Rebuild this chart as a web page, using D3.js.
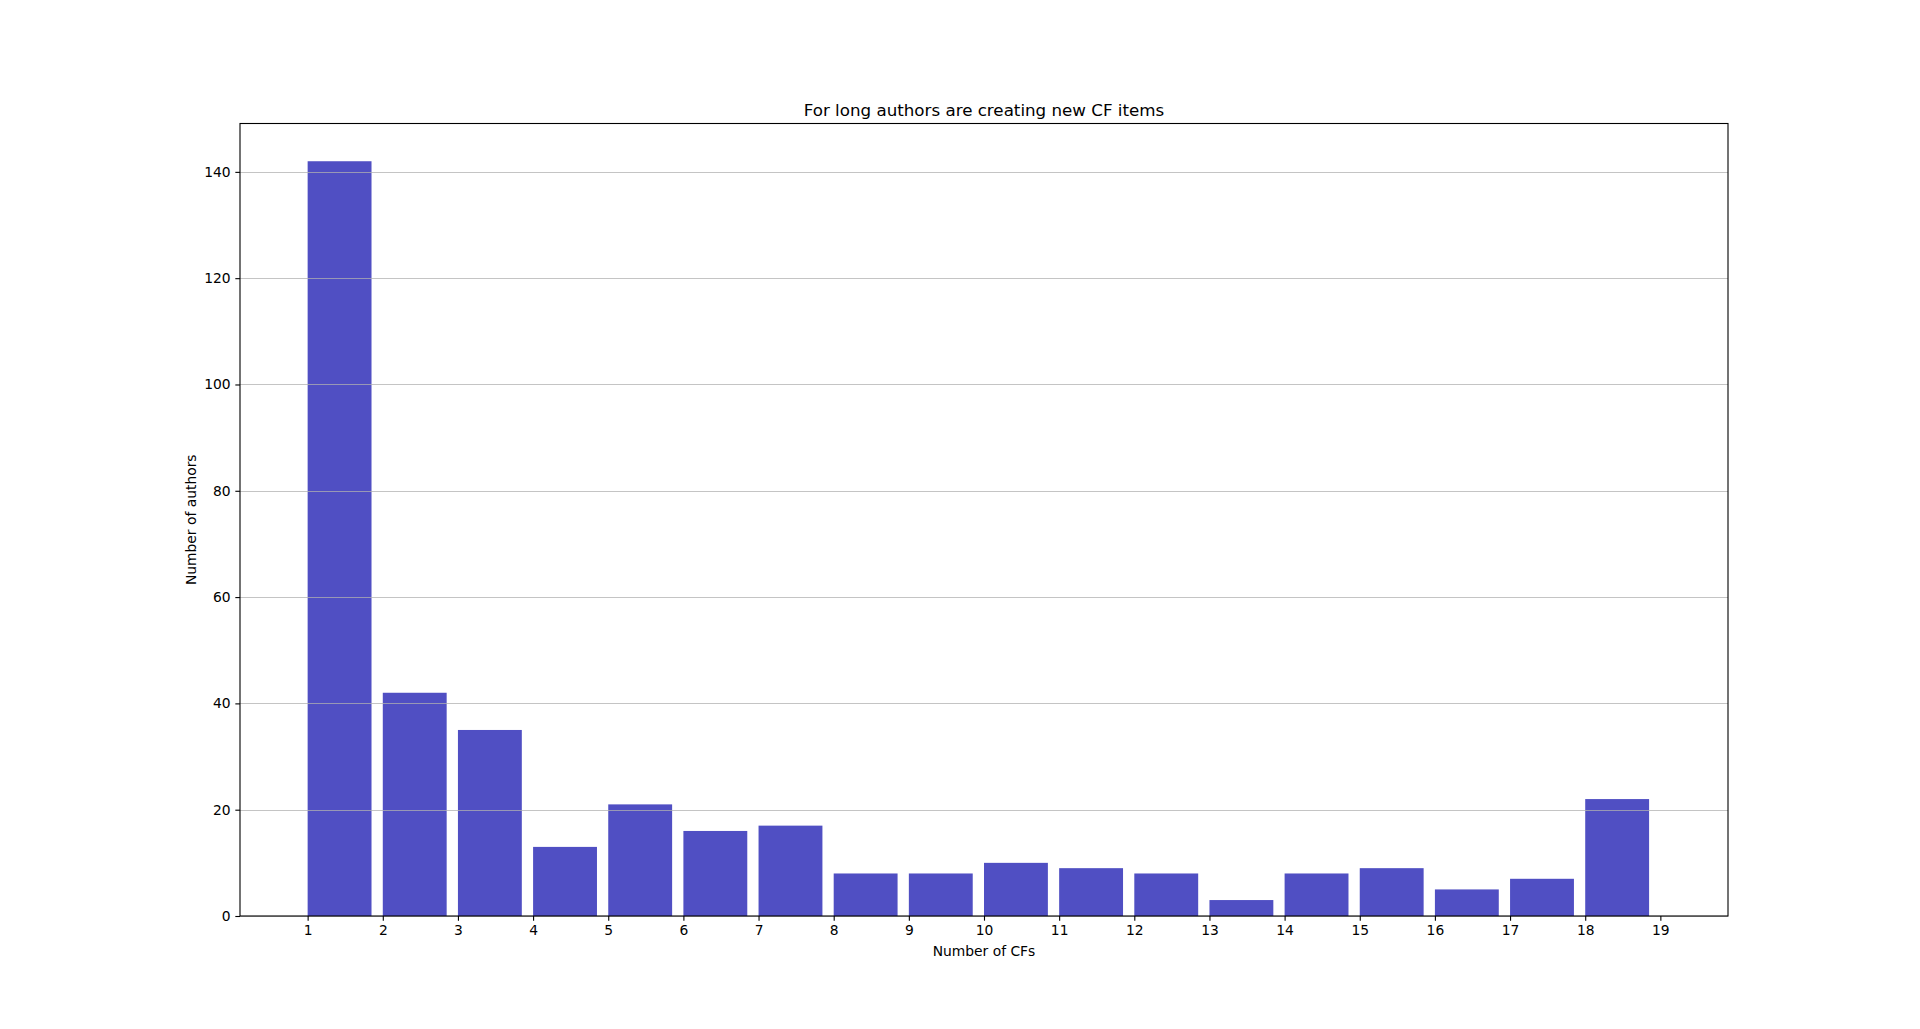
<!DOCTYPE html>
<html>
<head>
<meta charset="utf-8">
<script src="https://cdn.jsdelivr.net/npm/d3@7"></script>
<style>
  html, body { margin: 0; padding: 0; background: #ffffff; }
  svg { display: block; }
  text { font-family: "DejaVu Sans", sans-serif; fill: #000; }
</style>
</head>
<body>
<script>
// Data
const binStarts = [1, 2, 3, 4, 5, 6, 7, 8, 9, 10, 11, 12, 13, 14, 15, 16, 17, 18];
const authorCounts = [142, 42, 35, 13, 21, 16, 17, 8, 8, 10, 9, 8, 3, 8, 9, 5, 7, 22];
const xTicks = [1, 2, 3, 4, 5, 6, 7, 8, 9, 10, 11, 12, 13, 14, 15, 16, 17, 18, 19];
const yTicks = [0, 20, 40, 60, 80, 100, 120, 140];
const titleText = "For long authors are creating new CF items";
const xLabelText = "Number of CFs";
const yLabelText = "Number of authors";

(function () {
const W = 1920, H = 1029;
const pL = 240, pR = 1728, pT = 123.5, pB = 916;
const barFrac = 0.85;
const fs = "13.85px";

const svg = d3.select("body").append("svg").attr("width", W).attr("height", H);

const x = d3.scaleLinear().domain([0.1, 19.9]).range([pL, pR]);
const yMax = d3.max(authorCounts) * 1.05;
const y = d3.scaleLinear().domain([0, yMax]).range([pB, pT]);

// Bars
svg.append("g").selectAll("rect")
  .data(authorCounts)
  .join("rect")
  .attr("x", (d, i) => x(binStarts[i]))
  .attr("width", (d, i) => x(binStarts[i] + barFrac) - x(binStarts[i]))
  .attr("y", d => y(d))
  .attr("height", d => y(0) - y(d))
  .attr("fill", "#0504aa")
  .attr("fill-opacity", 0.7);

// Grid (drawn over bars)
svg.append("g").selectAll("line")
  .data(yTicks)
  .join("line")
  .attr("x1", pL).attr("x2", pR)
  .attr("y1", d => Math.round(y(d)) + 0.5).attr("y2", d => Math.round(y(d)) + 0.5)
  .attr("stroke", "#b0b0b0")
  .attr("stroke-opacity", 0.75)
  .attr("stroke-width", 1.1);

// Axes
const xAxis = d3.axisBottom(x).tickValues(xTicks).tickFormat(d3.format("d"))
  .tickSizeInner(4.67).tickSizeOuter(0).tickPadding(4.67);
const yAxis = d3.axisLeft(y).tickValues(yTicks).tickFormat(d3.format("d"))
  .tickSizeInner(4.67).tickSizeOuter(0).tickPadding(4.67);

const gx = svg.append("g").attr("transform", `translate(0,${pB})`).call(xAxis);
const gy = svg.append("g").attr("transform", `translate(${pL},0)`).call(yAxis);
[gx, gy].forEach(g => {
  g.select(".domain").remove();
  g.selectAll(".tick line").attr("stroke", "#000").attr("stroke-width", 1.1);
  g.selectAll(".tick text").attr("font-size", fs).attr("font-family", "DejaVu Sans, sans-serif").attr("fill", "#000");
});

// Frame
svg.append("rect")
  .attr("x", pL).attr("y", pT)
  .attr("width", pR - pL).attr("height", pB - pT)
  .attr("fill", "none").attr("stroke", "#000").attr("stroke-width", 1.1);

// Title
svg.append("text")
  .attr("x", (pL + pR) / 2).attr("y", 115.5)
  .attr("text-anchor", "middle")
  .attr("font-size", "16.7px")
  .text(titleText);

// X label
svg.append("text")
  .attr("x", (pL + pR) / 2).attr("y", 956)
  .attr("text-anchor", "middle")
  .attr("font-size", fs)
  .text(xLabelText);

// Y label
svg.append("text")
  .attr("transform", `translate(195.5,${(pT + pB) / 2}) rotate(-90)`)
  .attr("text-anchor", "middle")
  .attr("font-size", fs)
  .text(yLabelText);
})();
</script>
</body>
</html>
